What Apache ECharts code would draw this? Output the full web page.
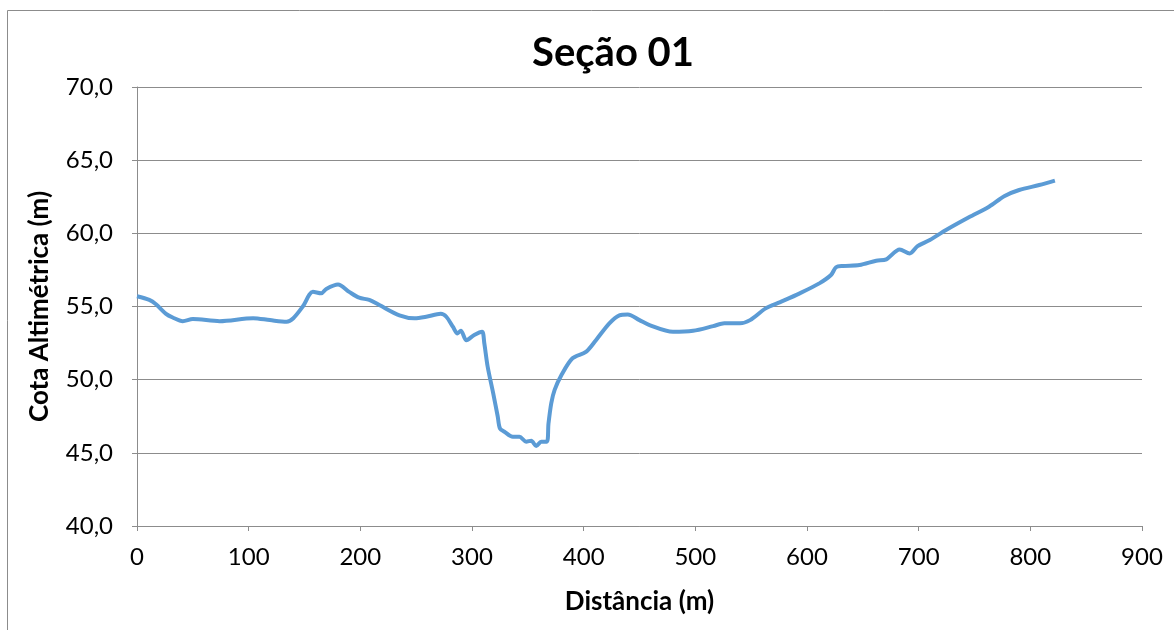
<!DOCTYPE html>
<html>
<head>
<meta charset="utf-8">
<script src="https://cdn.jsdelivr.net/npm/echarts@6/dist/echarts.min.js"></script>
<style>
html,body{margin:0;padding:0;background:#fff;}
#chart{width:1174px;height:630px;}
</style>
</head>
<body>
<div id="chart"></div>
<script>
const titleText = 'Seção 01';
const xAxisName = 'Distância (m)';
const yAxisName = 'Cota Altimétrica (m)';
const distance = [0, 11, 17, 26, 32, 41, 50, 74, 104, 119, 134, 140, 148.5, 157.5, 165, 169.5, 180, 190, 199, 208, 217, 235, 248.5, 259, 272, 277, 283, 287, 290, 295, 302, 309, 311, 314, 319, 323, 325, 329, 336.5, 342.5, 348.5, 353, 357.5, 362, 367, 368.5, 371, 374, 380, 390, 402, 411, 423, 432, 439.5, 450, 459, 480, 498, 516, 526, 540, 549, 563, 576, 593.5, 611, 621.5, 626, 632, 647, 662, 671, 683, 692, 699, 710, 724.5, 745, 763, 777, 790, 808, 822];
const elevation = [55.7, 55.45, 55.15, 54.5, 54.25, 54.0, 54.14, 54.0, 54.2, 54.07, 53.96, 54.2, 55.0, 56.0, 55.9, 56.2, 56.5, 56.0, 55.6, 55.45, 55.1, 54.4, 54.2, 54.3, 54.5, 54.3, 53.6, 53.16, 53.35, 52.7, 53.05, 53.27, 52.5, 50.9, 49.06, 47.5, 46.67, 46.44, 46.1, 46.1, 45.76, 45.83, 45.46, 45.76, 45.76, 47.0, 48.4, 49.3, 50.3, 51.46, 51.9, 52.7, 53.85, 54.4, 54.46, 54.07, 53.73, 53.27, 53.34, 53.66, 53.85, 53.85, 54.07, 54.87, 55.3, 55.9, 56.58, 57.15, 57.68, 57.77, 57.83, 58.13, 58.22, 58.9, 58.63, 59.13, 59.54, 60.23, 61.1, 61.82, 62.55, 62.96, 63.3, 63.6];

const seriesData = distance.map((d, i) => [d, elevation[i]]);
const FONT = 'Lato';
const chart = echarts.init(document.getElementById('chart'), null, {renderer: 'canvas'});
chart.setOption({
  animation: false,
  backgroundColor: '#fff',
  graphic: [{
    type: 'rect', silent: true, z: -1,
    shape: {x: 7.5, y: 10.5, width: 1200, height: 700},
    style: {fill: 'none', stroke: '#8c8c8c', lineWidth: 1}
  }],
  title: {
    text: titleText, left: 608, top: 28, textAlign: 'center',
    textStyle: {fontFamily: FONT, fontWeight: 'bold', fontSize: 40, color: '#000'}
  },
  grid: {left: 137, right: 32, top: 87, bottom: 104, containLabel: false},
  xAxis: {
    type: 'value', min: 0, max: 900, interval: 100,
    name: xAxisName, nameLocation: 'middle', nameGap: 63,
    nameTextStyle: {fontFamily: FONT, fontWeight: 'bold', fontSize: 26, color: '#000'},
    axisLine: {show: true, lineStyle: {color: '#8c8c8c', width: 1}},
    axisTick: {show: true, inside: false, length: 5, lineStyle: {color: '#8c8c8c'}},
    axisLabel: {fontFamily: FONT, fontSize: 24, color: '#000', margin: 19},
    splitLine: {show: false}
  },
  yAxis: {
    type: 'value', min: 40, max: 70, interval: 5,
    name: yAxisName, nameLocation: 'middle', nameGap: 84, nameRotate: 90,
    nameTextStyle: {fontFamily: FONT, fontWeight: 'bold', fontSize: 26, color: '#000'},
    axisLine: {show: true, lineStyle: {color: '#8c8c8c', width: 1}},
    axisTick: {show: true, inside: false, length: 5, lineStyle: {color: '#8c8c8c'}},
    axisLabel: {fontFamily: FONT, fontSize: 24, color: '#000', margin: 24,
      formatter: v => v.toFixed(1).replace('.', ',')},
    splitLine: {show: true, lineStyle: {color: '#8c8c8c', width: 1}}
  },
  series: [{
    type: 'line', data: seriesData, smooth: 0.3, showSymbol: false,
    lineStyle: {color: '#5b9bd5', width: 4}, itemStyle: {color: '#5b9bd5'}
  }]
});
</script>
</body>
</html>
